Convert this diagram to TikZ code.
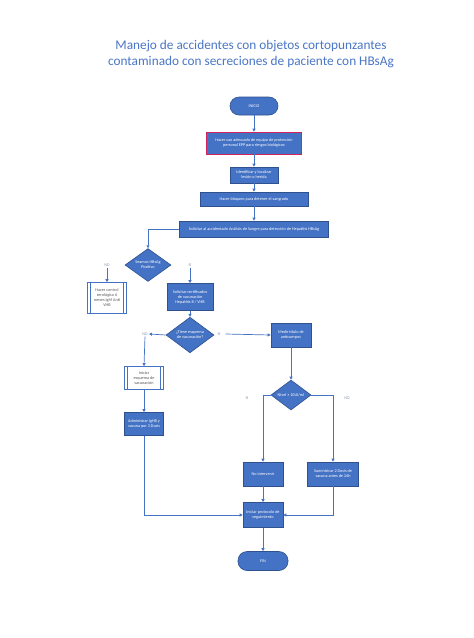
\documentclass[tikz,border=0pt]{standalone}
\usepackage{fontspec}
\setmainfont{Carlito}
\usetikzlibrary{shapes.geometric,arrows.meta}
\definecolor{fillb}{HTML}{4472C4}
\definecolor{edgeb}{HTML}{2F528F}
\definecolor{titleb}{HTML}{4A76C6}
\definecolor{redb}{HTML}{D0245E}
\definecolor{lblc}{HTML}{8A9AB8}
\begin{document}
\begin{tikzpicture}[x=1pt,y=-1pt,
  tiny/.style={font=\fontsize{4.2}{5}\selectfont},
  proc/.style={rectangle, draw=edgeb, fill=fillb, text=white, tiny, align=center, inner sep=1pt, line width=0.6pt},
  term/.style={proc, rounded corners=9pt},
  dec/.style={diamond, draw=edgeb, fill=fillb, text=white, tiny, align=center, inner sep=0pt, line width=0.6pt},
  ppro/.style={rectangle, draw=fillb, fill=white, text=gray!70!black, tiny, align=center, inner sep=1pt, line width=0.6pt,
    path picture={\draw[fillb, line width=0.5pt] ([xshift=3pt]path picture bounding box.north west) -- ([xshift=3pt]path picture bounding box.south west);
                  \draw[fillb, line width=0.5pt] ([xshift=-3pt]path picture bounding box.north east) -- ([xshift=-3pt]path picture bounding box.south east);}},
  lbl/.style={tiny, text=lblc, inner sep=1pt},
  arr/.style={draw=fillb, line width=0.7pt, -{Triangle[length=3pt,width=3pt]}},
  ln/.style={draw=fillb, line width=0.7pt}
]
\useasboundingbox[fill=white] (0,0) rectangle (474,638);
\node[titleb, align=center, font=\fontsize{13.3}{16.5}\selectfont] (title) at (251,54) {Manejo de accidentes con objetos cortopunzantes\\contaminado con secreciones de paciente con HBsAg};

\node[term, minimum width=48pt, minimum height=18pt] (ini) at (254,106) {INICIO};
\node[proc, draw=redb, minimum width=95pt, minimum height=22pt] (b1) at (254,143) {Hacer uso adecuado de equipo de protección\\personal EPP para riesgos biológicos};
\node[proc, minimum width=48pt, minimum height=16pt] (b2) at (254,175) {Identificar y localizar\\lesión o herida};
\node[proc, minimum width=108pt, minimum height=14pt] (b3) at (254,199) {Hacer bloqueo para detener el sangrado};
\node[proc, minimum width=149pt, minimum height=16pt] (b4) at (254,229) {Solicitar al accidentado Análisis de Sangre para detección de Hepatitis HBsAg};

\node[dec, minimum width=46pt, minimum height=30pt] (d1) at (148,265) {Seamos HBsAg\\Positivo};
\node[lbl] (no1) at (107,265) {NO};
\node[lbl] (si1) at (190,265) {SI};
\node[ppro, minimum width=39pt, minimum height=31pt] (pp1) at (107,298) {Hacer control\\serológico 6\\meses IgM Anti\\VHB};
\node[proc, minimum width=46pt, minimum height=27pt] (b5) at (190,297) {Solicitar certificados\\de vacunación\\Hepatitis B / VHB};

\node[dec, minimum width=48pt, minimum height=26pt] (d2) at (190,335) {¿Tiene esquema\\de vacunación?};
\node[lbl] (no2) at (145,334) {NO};
\node[lbl] (si2) at (219,334) {SI};
\node[proc, minimum width=40pt, minimum height=24pt] (b6) at (291,335) {Medir título de\\anticuerpos};

\node[ppro, minimum width=39pt, minimum height=23pt] (pp2) at (144,378) {Iniciar\\esquema de\\vacunación};
\node[proc, minimum width=39pt, minimum height=23pt] (b7) at (144,424) {Administrar IgHB y\\vacuna por 3 Dosis};

\node[dec, minimum width=40pt, minimum height=30pt] (d3) at (291,395) {Nivel ≥ 10UI/ml};
\node[lbl] (si3) at (247,398) {SI};
\node[lbl] (no3) at (347,398) {NO};

\node[proc, minimum width=40pt, minimum height=24pt] (b8) at (263,474) {No intervenir};
\node[proc, minimum width=51pt, minimum height=24pt] (b9) at (333,474) {Suministrar 2 Dosis de\\vacuna antes de 24h};
\node[proc, minimum width=40pt, minimum height=25pt] (b10) at (263,515) {Iniciar protocolo de\\seguimiento};
\node[term, minimum width=50pt, minimum height=19pt] (fin) at (263,561) {FIN};

\draw[arr] (ini) -- (b1);
\draw[arr] (b1) -- (b2);
\draw[arr] (b2) -- (b3);
\draw[arr] (b3) -- (b4);
\draw[arr] (b4.west) -| (d1.north);
\draw[arr] (no1.south) -- (pp1.north);
\draw[arr] (si1.south) -- (b5.north);
\draw[arr] (b5) -- (d2);
\draw[arr] (d2.west) -- (no2.east);
\draw[arr] (no2.south) -- (pp2.north);
\draw[arr] (si2.east) ++(4pt,0) -- (b6.west);
\draw[arr] (pp2) -- (b7);
\draw[arr] (b7.south) |- (b10.west);
\draw[arr] (b6) -- (d3);
\draw[arr] (d3.west) -| (b8.north);
\draw[arr] (d3.east) -| (b9.north);
\draw[arr] (b8) -- (b10);
\draw[arr] (b9.south) |- (b10.east);
\draw[arr] (b10) -- (fin);
\end{tikzpicture}
\end{document}
